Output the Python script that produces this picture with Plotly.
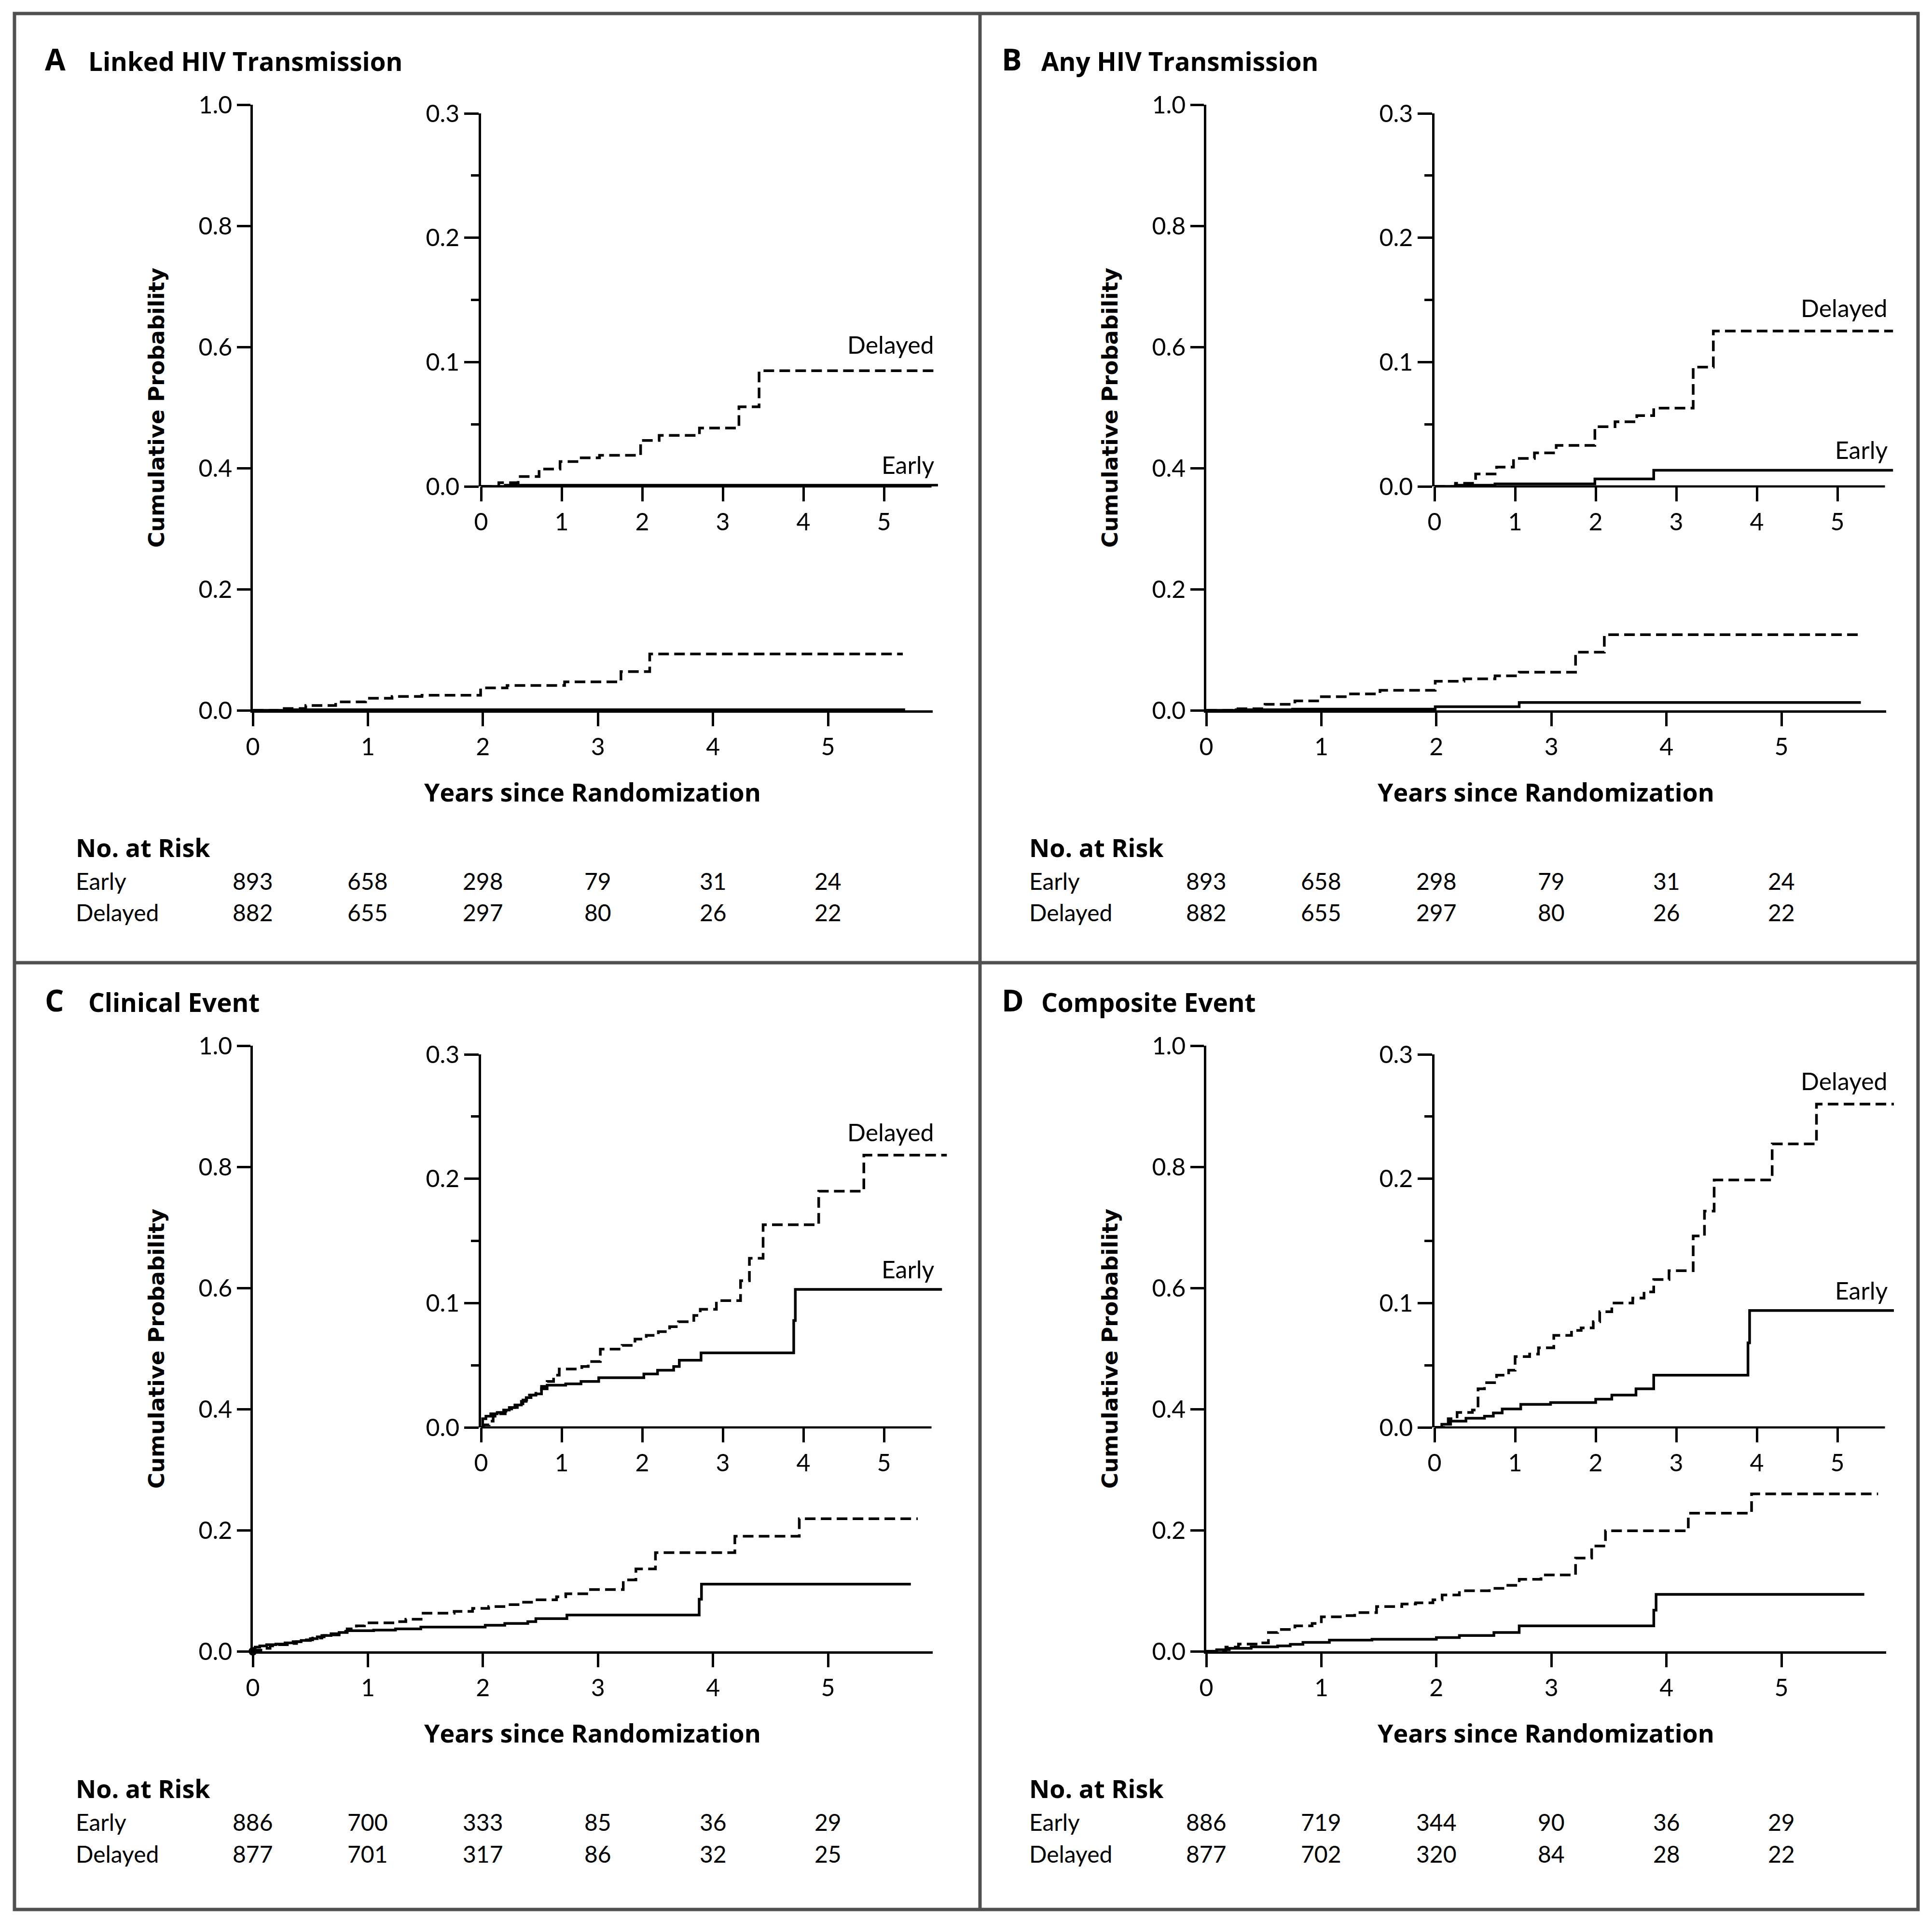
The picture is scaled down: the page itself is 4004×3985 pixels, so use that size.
import plotly.graph_objects as go

W, H = 4004, 3985
FONT = "Lato"
BFONT = "Open Sans"
YFONT = "DejaVu Sans"

# ---------------- data ----------------
panel_letters = ["A", "B", "C", "D"]
panel_titles = ["Linked HIV Transmission", "Any HIV Transmission", "Clinical Event", "Composite Event"]
years = [0, 1, 2, 3, 4, 5]
main_yticks = [0.0, 0.2, 0.4, 0.6, 0.8, 1.0]
inset_yticks = [0.0, 0.1, 0.2, 0.3]

# Panel A: linked HIV transmission
a_early_t = [0, 0.30, 5.67]
a_early_p = [0, 0.001, 0.001]
a_del_t = [0, 0.22, 0.46, 0.72, 0.98, 1.21, 1.47, 1.98, 2.21, 2.71, 3.20, 3.45, 5.65]
a_del_p = [0, 0.003, 0.008, 0.014, 0.020, 0.023, 0.025, 0.037, 0.041, 0.047, 0.064, 0.093, 0.093]

# Panel B: any HIV transmission
b_early_t = [0, 0.26, 0.75, 1.99, 2.72, 5.69]
b_early_p = [0, 0.001, 0.002, 0.006, 0.013, 0.013]
b_del_t = [0, 0.26, 0.51, 0.77, 0.98, 1.24, 1.51, 1.99, 2.24, 2.51, 2.72, 3.21, 3.46, 5.69]
b_del_p = [0, 0.0025, 0.010, 0.0155, 0.0225, 0.027, 0.033, 0.048, 0.052, 0.057, 0.063, 0.096, 0.125, 0.125]

# Panel C: clinical event
c_early_t = [0, 0.02, 0.06, 0.12, 0.20, 0.28, 0.35, 0.42, 0.50, 0.56, 0.62, 0.68, 0.75, 0.82,
             1.05, 1.24, 1.46, 2.02, 2.19, 2.39, 2.46, 2.73, 3.88, 3.90, 5.72]
c_early_p = [0, 0.007, 0.009, 0.011, 0.012, 0.014, 0.016, 0.018, 0.021, 0.024, 0.026, 0.027, 0.031, 0.034,
             0.035, 0.037, 0.040, 0.043, 0.046, 0.049, 0.054, 0.060, 0.086, 0.111, 0.111]
c_del_t = [0, 0.03, 0.10, 0.15, 0.22, 0.30, 0.38, 0.45, 0.52, 0.60, 0.68, 0.75, 0.82, 0.90, 0.97,
           1.25, 1.33, 1.48, 1.75, 1.91, 2.05, 2.20, 2.34, 2.45, 2.64, 2.72, 2.92, 3.22, 3.33, 3.50,
           4.19, 4.75, 5.78]
c_del_p = [0, 0.002, 0.005, 0.009, 0.011, 0.013, 0.016, 0.019, 0.022, 0.026, 0.029, 0.033, 0.037, 0.042, 0.047,
           0.049, 0.053, 0.063, 0.066, 0.071, 0.074, 0.077, 0.081, 0.085, 0.090, 0.095, 0.102, 0.118, 0.136, 0.163,
           0.190, 0.219, 0.219]

# Panel D: composite event
d_early_t = [0, 0.09, 0.20, 0.39, 0.62, 0.73, 0.84, 1.07, 1.44, 2.00, 2.20, 2.50, 2.72, 3.89, 3.91, 5.72]
d_early_p = [0, 0.0025, 0.005, 0.0074, 0.009, 0.0116, 0.0148, 0.0185, 0.020, 0.0227, 0.026, 0.031, 0.042,
             0.068, 0.094, 0.094]
d_del_t = [0, 0.17, 0.28, 0.47, 0.54, 0.62, 0.77, 0.92, 1.00, 1.18, 1.29, 1.48, 1.70, 1.82, 1.97, 2.05,
           2.20, 2.46, 2.60, 2.72, 2.91, 3.21, 3.35, 3.47, 4.19, 4.74, 5.84]
d_del_p = [0, 0.007, 0.012, 0.014, 0.031, 0.036, 0.042, 0.046, 0.057, 0.059, 0.064, 0.074, 0.078, 0.080,
           0.085, 0.093, 0.100, 0.104, 0.109, 0.119, 0.126, 0.154, 0.174, 0.199, 0.228, 0.260, 0.260]

risk_early = [[893, 658, 298, 79, 31, 24], [893, 658, 298, 79, 31, 24],
              [886, 700, 333, 85, 36, 29], [886, 719, 344, 90, 36, 29]]
risk_delayed = [[882, 655, 297, 80, 26, 22], [882, 655, 297, 80, 26, 22],
                [877, 701, 317, 86, 32, 25], [877, 702, 320, 84, 28, 22]]

early_t = [a_early_t, b_early_t, c_early_t, d_early_t]
early_p = [a_early_p, b_early_p, c_early_p, d_early_p]
del_t = [a_del_t, b_del_t, c_del_t, d_del_t]
del_p = [a_del_p, b_del_p, c_del_p, d_del_p]

# ---------------- layout helpers ----------------
def px(x):
    return x / W


def py(y):
    return 1 - y / H


OX = [0, 1976, 0, 1976]
OY = [0, 0, 1950, 1950]
MAIN_XMAX = 5.91
INSET_XEND = [5.70, 5.72, 5.85, 5.70]   # visible data extent in inset
INSET_AXIS_END = 5.59
INSET_PX_PER_YEAR = 167.0

LINE_W = 4.5
tickfont = dict(family=FONT, size=50, color="black")
axis_common = dict(showgrid=False, zeroline=False, showline=True, linecolor="black", linewidth=LINE_W,
                   ticks="outside", ticklen=28, tickwidth=LINE_W, tickcolor="black", automargin=False,
                   tickfont=tickfont, fixedrange=True)

fig = go.Figure()
layout = dict(template="none", width=W, height=H, autosize=False, margin=dict(l=0, r=0, t=0, b=0, pad=0),
              paper_bgcolor="white", plot_bgcolor="rgba(0,0,0,0)", showlegend=False)
annotations = []
shapes = []

for i in range(4):
    ox, oy = OX[i], OY[i]
    mi, ii = 2 * i + 1, 2 * i + 2
    mname = "" if mi == 1 else str(mi)
    iname = str(ii)

    # main axes
    layout["xaxis" + mname] = dict(axis_common, domain=[px(524 + ox), px(1933 + ox)], range=[0, MAIN_XMAX],
                                   tickvals=years, anchor="y" + mname)
    layout["yaxis" + mname] = dict(axis_common, domain=[py(1472 + oy), py(217 + oy)], range=[0, 1],
                                   tickvals=main_yticks, tickformat=".1f", anchor="x" + mname)
    # inset axes
    xend = INSET_XEND[i]
    layout["xaxis" + iname] = dict(axis_common, showline=False,
                                   domain=[px(997 + ox), px(997 + ox + xend * INSET_PX_PER_YEAR)],
                                   range=[0, xend], tickvals=years, anchor="y" + iname, ticklen=30)
    layout["yaxis" + iname] = dict(axis_common, domain=[py(1008 + oy), py(235 + oy)], range=[0, 0.3],
                                   tickvals=inset_yticks, tickformat=".1f", anchor="x" + iname, ticklen=30,
                                   minor=dict(dtick=0.05, ticks="outside", ticklen=16, tickwidth=LINE_W,
                                              tickcolor="black"))
    shapes.append(dict(type="line", xref="x" + iname, yref="y" + iname + " domain", x0=0, x1=INSET_AXIS_END,
                       y0=0, y1=0, line=dict(color="black", width=LINE_W)))

    for xa, ya in (("x" + mname, "y" + mname), ("x" + iname, "y" + iname)):
        fig.add_trace(go.Scatter(x=del_t[i], y=del_p[i], mode="lines", xaxis=xa, yaxis=ya,
                                 line=dict(shape="hv", color="black", width=5.5, dash="22px,11px"),
                                 hoverinfo="skip"))
        fig.add_trace(go.Scatter(x=early_t[i], y=early_p[i], mode="lines", xaxis=xa, yaxis=ya,
                                 line=dict(shape="hv", color="black", width=5.5), hoverinfo="skip"))

    # inset curve labels
    annotations.append(dict(text="Delayed", x=5.635, y=del_p[i][-1], xref="x" + iname, yref="y" + iname,
                            xanchor="right", yanchor="bottom", yshift=22 if i == 0 else 16, showarrow=False,
                            font=dict(family=FONT, size=50, color="black")))
    annotations.append(dict(text="Early", x=5.635, y=early_p[i][-1], xref="x" + iname, yref="y" + iname,
                            xanchor="right", yanchor="bottom", yshift=10, showarrow=False,
                            font=dict(family=FONT, size=50, color="black")))

    # panel title
    lx = 91 if i % 2 == 0 else 2074
    tx = 181 if i % 2 == 0 else 2156
    annotations.append(dict(text="<b>" + panel_letters[i] + "</b>", x=px(lx), y=py(122 + oy), xref="paper",
                            yref="paper", xanchor="left", yanchor="middle", showarrow=False,
                            font=dict(family=BFONT, size=62, color="black")))
    annotations.append(dict(text="<b>" + panel_titles[i] + "</b>", x=px(tx), y=py(126 + oy), xref="paper",
                            yref="paper", xanchor="left", yanchor="middle", showarrow=False,
                            font=dict(family=BFONT, size=53, color="black")))
    # axis titles
    annotations.append(dict(text="<b>Cumulative Probability</b>", x=px(324 + ox), y=py(845 + oy), xref="paper",
                            yref="paper", xanchor="center", yanchor="middle", textangle=-90, showarrow=False,
                            font=dict(family=YFONT, size=45, color="black")))
    annotations.append(dict(text="<b>Years since Randomization</b>", x=px(1228 + ox), y=py(1640 + oy),
                            xref="paper", yref="paper", xanchor="center", yanchor="middle", showarrow=False,
                            font=dict(family=BFONT, size=52, color="black")))
    # risk table
    rx = 155 + ox
    annotations.append(dict(text="<b>No. at Risk</b>", x=px(rx), y=py(1755 + oy), xref="paper", yref="paper",
                            xanchor="left", yanchor="middle", showarrow=False,
                            font=dict(family=BFONT, size=52, color="black")))
    for label, vals, yy in (("Early", risk_early[i], 1825), ("Delayed", risk_delayed[i], 1891)):
        annotations.append(dict(text=label, x=px(rx), y=py(yy + oy), xref="paper", yref="paper",
                                xanchor="left", yanchor="middle", showarrow=False,
                                font=dict(family=FONT, size=48, color="black")))
        for yr, v in zip(years, vals):
            annotations.append(dict(text=str(v), x=yr, y=py(yy + oy), xref="x" + mname, yref="paper",
                                    xanchor="center", yanchor="middle", showarrow=False,
                                    font=dict(family=FONT, size=48, color="black")))

# origin dot in panel C
fig.add_trace(go.Scatter(x=[0], y=[0], mode="markers", xaxis="x5", yaxis="y5", cliponaxis=False,
                         marker=dict(color="black", size=18), hoverinfo="skip"))

# panel frame
FRAME = dict(color="#505050", width=7)
shapes += [
    dict(type="rect", xref="paper", yref="paper", x0=px(30), x1=px(3975), y0=py(3957), y1=py(28), line=FRAME),
    dict(type="line", xref="paper", yref="paper", x0=px(2031), x1=px(2031), y0=py(3957), y1=py(28), line=FRAME),
    dict(type="line", xref="paper", yref="paper", x0=px(30), x1=px(3975), y0=py(1995), y1=py(1995), line=FRAME),
]

layout["annotations"] = annotations
layout["shapes"] = shapes
fig.update_layout(**layout)
fig.write_html("out.html")
